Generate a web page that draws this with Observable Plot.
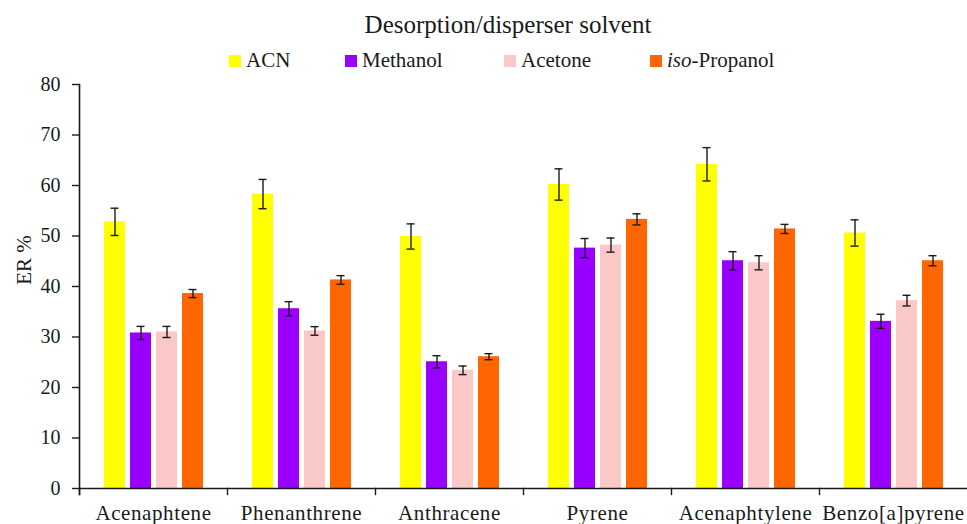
<!DOCTYPE html>
<html>
<head>
<meta charset="utf-8">
<script src="https://cdn.jsdelivr.net/npm/d3@7"></script>
<script src="https://cdn.jsdelivr.net/npm/@observablehq/plot@0.6"></script>
<style>
  body { margin: 0; background: #fff; }
  #chart { position: relative; width: 967px; height: 524px; overflow: hidden; background: #fff; }
  #chart svg { display: block; }
  #overlay { position: absolute; left: 0; top: 0; pointer-events: none; }
</style>
</head>
<body>
<div id="chart"></div>
<script>
// Extraction recovery (ER %) of six PAHs for each desorption/disperser solvent
const categories = ["Acenaphtene", "Phenanthrene", "Anthracene", "Pyrene", "Acenaphtylene", "Benzo[a]pyrene"];
const solvents = ["ACN", "Methanol", "Acetone", "iso-Propanol"];

const acn            = [52.8, 58.3, 49.9, 60.2, 64.2, 50.6];
const acnErr         = [2.7, 2.9, 2.5, 3.1, 3.3, 2.6];
const methanol       = [30.8, 35.6, 25.1, 47.6, 45.1, 33.1];
const methanolErr    = [1.3, 1.4, 1.2, 1.9, 1.8, 1.4];
const acetone        = [31.0, 31.2, 23.4, 48.2, 44.7, 37.2];
const acetoneErr     = [1.1, 0.85, 0.85, 1.4, 1.4, 1.05];
const isoPropanol    = [38.6, 41.3, 26.1, 53.3, 51.4, 45.1];
const isoPropanolErr = [0.8, 0.85, 0.6, 1.1, 0.9, 1.0];

const yTicks = [0, 10, 20, 30, 40, 50, 60, 70, 80];
const titleText = "Desorption/disperser solvent";
const yLabel = "ER %";

const solventColors = ["#ffff00", "#9900ff", "#fbc8c8", "#ff6600"];

// long-format rows for the grouped bars
const seriesValues = [acn, methanol, acetone, isoPropanol];
const seriesErrors = [acnErr, methanolErr, acetoneErr, isoPropanolErr];
const rows = [];
categories.forEach((category, i) => {
  solvents.forEach((solvent, j) => {
    rows.push({category, solvent, value: seriesValues[j][i], err: seriesErrors[j][i]});
  });
});

const ink = "#1a1a1a";
const serif = "Liberation Serif";

const chart = Plot.plot({
  width: 967,
  height: 524,
  marginTop: 84,
  marginBottom: 36,
  marginLeft: 79,
  marginRight: 0,
  style: {background: "#fff", color: ink, overflow: "visible"},
  fx: {domain: categories, padding: 0, label: null, axis: null},
  x: {domain: solvents, paddingInner: 0.21, paddingOuter: 0.9, axis: null},
  y: {domain: [0, 80], label: null, axis: null},
  color: {domain: solvents, range: solventColors},
  marks: [
    Plot.barY(rows, {fx: "category", x: "solvent", y: "value", fill: "solvent"}),
    // error bars: stem and caps
    Plot.ruleX(rows, {fx: "category", x: "solvent", y1: d => d.value - d.err, y2: d => d.value + d.err, stroke: ink, strokeWidth: 1.4}),
    Plot.tickY(rows, {fx: "category", x: "solvent", y: d => d.value - d.err, stroke: ink, strokeWidth: 1.4, insetLeft: 6.5, insetRight: 6.5}),
    Plot.tickY(rows, {fx: "category", x: "solvent", y: d => d.value + d.err, stroke: ink, strokeWidth: 1.4, insetLeft: 6.5, insetRight: 6.5}),
    // y axis with its line, extending slightly below zero
    Plot.axisY({ticks: yTicks, tickSize: 7, tickPadding: 12, fontSize: 20, fontFamily: serif, label: null, stroke: ink, fill: ink, strokeWidth: 1.4}),
    Plot.frame({anchor: "left", facetAnchor: "left", insetBottom: -6, stroke: ink, strokeWidth: 1.6}),
    // category boundary ticks below the baseline
    Plot.frame({anchor: "left", insetTop: 404, insetBottom: -6, stroke: ink, strokeWidth: 1.4}),
    // baseline
    Plot.ruleY([0], {stroke: ink, strokeWidth: 1.6}),
    Plot.axisFx({anchor: "bottom", tickSize: 0, tickPadding: 17, fontSize: 21, fontFamily: serif, label: null, fill: ink})
  ]
});

const container = document.getElementById("chart");
container.appendChild(chart);

// serif face and slight letter spacing on the category labels
d3.select(chart).selectAll("text").attr("font-family", serif);
d3.select(chart).selectAll("[aria-label='fx-axis tick label'] text").style("letter-spacing", "0.6px");

// title, legend and y-axis label
const overlay = d3.select(container).append("svg")
  .attr("id", "overlay")
  .attr("width", 967)
  .attr("height", 524)
  .attr("font-family", serif)
  .style("fill", ink);

overlay.append("text")
  .attr("x", 508)
  .attr("y", 33)
  .attr("text-anchor", "middle")
  .attr("font-family", serif)
  .attr("font-size", 25)
  .text(titleText);

const legendLeft = [229, 345, 504, 650];
const legend = overlay.selectAll("g.item")
  .data(solvents)
  .join("g")
  .attr("class", "item")
  .attr("transform", (d, i) => `translate(${legendLeft[i]},0)`);

legend.append("rect")
  .attr("x", 0)
  .attr("y", 55)
  .attr("width", 12)
  .attr("height", 12)
  .attr("fill", (d, i) => solventColors[i]);

legend.append("text")
  .attr("x", 17)
  .attr("y", 67)
  .attr("font-family", serif)
  .attr("font-size", 21)
  .each(function (d) {
    const t = d3.select(this);
    if (d.startsWith("iso-")) {
      t.append("tspan").attr("font-style", "italic").text("iso");
      t.append("tspan").text(d.slice(3));
    } else {
      t.text(d);
    }
  });

overlay.append("text")
  .attr("transform", "translate(31,260) rotate(-90)")
  .attr("text-anchor", "middle")
  .attr("font-family", serif)
  .attr("font-size", 21)
  .text(yLabel);
</script>
</body>
</html>
